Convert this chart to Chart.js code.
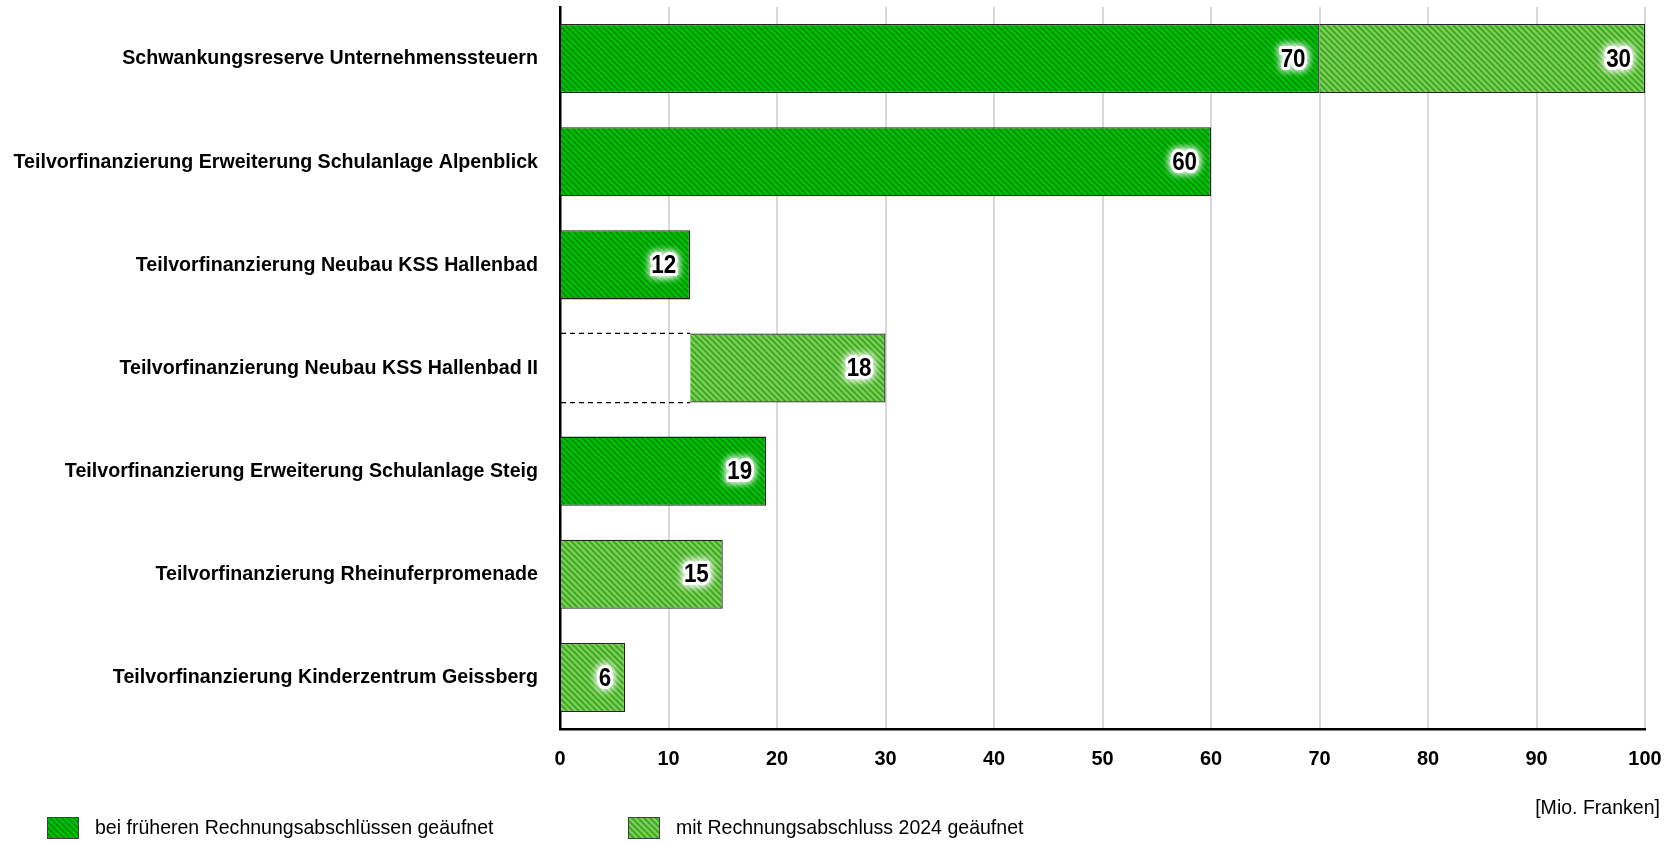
<!DOCTYPE html>
<html>
<head>
<meta charset="utf-8">
<script src="https://cdn.jsdelivr.net/npm/chart.js@4"></script>
<style>
  html, body { margin: 0; padding: 0; background: #fff; overflow: hidden; }
  canvas { display: block; }
</style>
</head>
<body>
<canvas id="reserveChart" width="1668" height="843"></canvas>
<script>
var categories = [
    "Schwankungsreserve Unternehmenssteuern",
    "Teilvorfinanzierung Erweiterung Schulanlage Alpenblick",
    "Teilvorfinanzierung Neubau KSS Hallenbad",
    "Teilvorfinanzierung Neubau KSS Hallenbad II",
    "Teilvorfinanzierung Erweiterung Schulanlage Steig",
    "Teilvorfinanzierung Rheinuferpromenade",
    "Teilvorfinanzierung Kinderzentrum Geissberg"
];
var earlier = [70, 60, 12, 0, 19, 0, 0];
var gap = [0, 0, 0, 12, 0, 0, 0];
var year2024 = [30, 0, 0, 18, 0, 15, 6];
var xTicks = [0, 10, 20, 30, 40, 50, 60, 70, 80, 90, 100];
var seriesNames = ["bei früheren Rechnungsabschlüssen geäufnet", "mit Rechnungsabschluss 2024 geäufnet"];
var unitLabel = "[Mio. Franken]";

var FONT = "'Liberation Sans', Arial, sans-serif";

function makeHatch(base, stripe) {
    var c = document.createElement("canvas");
    c.width = 6; c.height = 6;
    var g = c.getContext("2d");
    g.fillStyle = base;
    g.fillRect(0, 0, 6, 6);
    g.strokeStyle = stripe;
    g.lineWidth = 2.3;
    g.beginPath();
    g.moveTo(-3, -3); g.lineTo(9, 9);
    g.moveTo(-3, 3); g.lineTo(3, 9);
    g.moveTo(3, -3); g.lineTo(9, 3);
    g.stroke();
    return g.createPattern(c, "repeat");
}

// text squeezed horizontally, to look like a narrow font
function narrowText(c, text, x, y, align, font, sx, halo) {
    c.save();
    c.font = font;
    c.textAlign = align;
    c.textBaseline = "middle";
    c.translate(x, y);
    c.scale(sx, 1);
    if (halo) {
        c.shadowColor = "#ffffff";
        c.shadowBlur = 8;
        c.lineJoin = "round";
        c.strokeStyle = "#ffffff";
        c.lineWidth = 6;
        c.strokeText(text, 0, 0);
        c.strokeText(text, 0, 0);
        c.shadowBlur = 0;
    }
    c.fillStyle = "#000000";
    c.fillText(text, 0, 0);
    c.restore();
}

var ctx = document.getElementById("reserveChart").getContext("2d");
var darkFill = makeHatch("#00c800", "#009408");
var lightFill = makeHatch("#92d050", "#38ae33");

var valueLabels = {
    id: "valueLabels",
    afterDatasetsDraw: function(chart) {
        [0, 2].forEach(function(di) {
            var meta = chart.getDatasetMeta(di);
            var values = chart.data.datasets[di].data;
            meta.data.forEach(function(bar, i) {
                if (!values[i]) return;
                narrowText(chart.ctx, String(values[i]), bar.x - 14, bar.y + 1, "right", "bold 26px " + FONT, 0.86, true);
            });
        });
    }
};

// dashed outline for the part already covered by the first tranche
var gapOutline = {
    id: "gapOutline",
    afterDatasetsDraw: function(chart) {
        var c = chart.ctx;
        var meta = chart.getDatasetMeta(1);
        c.save();
        c.strokeStyle = "#000000";
        c.lineWidth = 1.2;
        c.setLineDash([5, 4]);
        meta.data.forEach(function(bar, i) {
            if (!gap[i]) return;
            var left = bar.base, right = bar.x, half = bar.height / 2;
            c.beginPath();
            c.moveTo(left, bar.y - half); c.lineTo(right, bar.y - half);
            c.moveTo(left, bar.y + half); c.lineTo(right, bar.y + half);
            c.stroke();
        });
        c.restore();
    }
};

var axisText = {
    id: "axisText",
    afterDraw: function(chart) {
        var c = chart.ctx;
        var ys = chart.scales.y, xs = chart.scales.x;
        categories.forEach(function(name, i) {
            narrowText(c, name, ys.right - 22, ys.getPixelForTick(i), "right", "bold 21px " + FONT, 0.935, false);
        });
        xTicks.forEach(function(v) {
            narrowText(c, String(v), xs.getPixelForValue(v), xs.top + 30, "center", "bold 21px " + FONT, 0.95, false);
        });
    }
};

var bottomLegend = {
    id: "bottomLegend",
    afterDraw: function(chart) {
        var c = chart.ctx;
        var fills = [darkFill, lightFill];
        var xs = [47, 628];
        var y = 828;
        seriesNames.forEach(function(name, i) {
            c.save();
            c.fillStyle = fills[i];
            c.fillRect(xs[i], y - 11, 32, 22);
            c.strokeStyle = "#404040";
            c.lineWidth = 1;
            c.strokeRect(xs[i] + 0.5, y - 10.5, 31, 21);
            c.restore();
            narrowText(c, name, xs[i] + 48, y, "left", "21px " + FONT, 0.93, false);
        });
        narrowText(c, unitLabel, 1660, 808, "right", "21px " + FONT, 0.93, false);
    }
};

var chart = new Chart(ctx, {
    type: "bar",
    data: {
        labels: categories,
        datasets: [{
            label: seriesNames[0],
            data: earlier,
            backgroundColor: darkFill,
            borderColor: "#222222",
            borderWidth: 1.3,
            barPercentage: 0.67,
            categoryPercentage: 1
        }, {
            label: "gap",
            data: gap,
            backgroundColor: "rgba(0,0,0,0)",
            borderWidth: 0,
            barPercentage: 0.67,
            categoryPercentage: 1
        }, {
            label: seriesNames[1],
            data: year2024,
            backgroundColor: lightFill,
            borderColor: "#222222",
            borderWidth: 1.3,
            barPercentage: 0.67,
            categoryPercentage: 1
        }]
    },
    options: {
        indexAxis: "y",
        responsive: false,
        animation: false,
        devicePixelRatio: 1,
        layout: { padding: { left: 0, right: 23, top: 7, bottom: 64 } },
        plugins: {
            legend: { display: false },
            tooltip: { enabled: false }
        },
        scales: {
            x: {
                stacked: true,
                min: 0,
                max: 100,
                afterBuildTicks: function(scale) {
                    scale.ticks = xTicks.map(function(v) { return { value: v }; });
                },
                afterFit: function(scale) { scale.height = 50; },
                grid: { color: "#d9d9d9", lineWidth: 2, drawTicks: false },
                border: { color: "#000000", width: 2.5 },
                ticks: { display: false }
            },
            y: {
                stacked: true,
                afterFit: function(scale) { scale.width = 560; },
                grid: { display: false, drawTicks: false },
                border: { color: "#000000", width: 2.5 },
                ticks: { display: false }
            }
        }
    },
    plugins: [valueLabels, gapOutline, axisText, bottomLegend]
});
</script>
</body>
</html>
